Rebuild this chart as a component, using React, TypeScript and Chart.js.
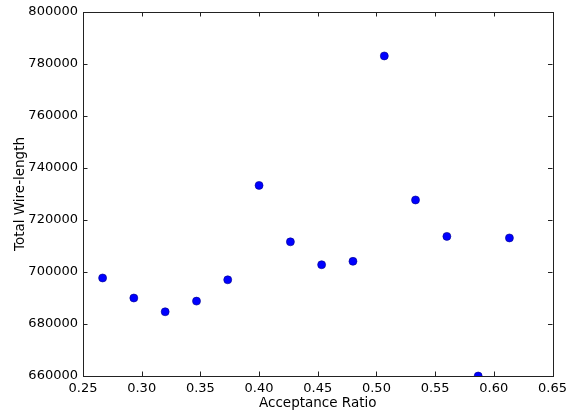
import React, { useEffect, useRef } from "react";
import { Chart, registerables } from "chart.js";

Chart.register(...registerables);

// Acceptance ratio for each run and the resulting total wire-length
const acceptanceRatios = [
  0.2667, 0.2933, 0.32, 0.3467, 0.3733, 0.4, 0.4267, 0.4533, 0.48, 0.5067,
  0.5333, 0.56, 0.5867, 0.6133,
];
const wireLengths = [
  697700, 690000, 684700, 688800, 697000, 733300, 711600, 702800, 704100,
  783100, 727700, 713700, 660000, 713100,
];

const xMin = 0.25;
const xMax = 0.65;
const xStep = 0.05;
const yMin = 660000;
const yMax = 800000;
const yStep = 20000;

const FONT = "'DejaVu Sans', sans-serif";

// Box frame plus inward tick marks on all four sides
const frameAndTicks = {
  id: "frameAndTicks",
  afterDraw(chart: any) {
    const { ctx, chartArea: a, scales } = chart;
    const len = 4.5;
    ctx.save();
    ctx.strokeStyle = "#222";
    ctx.lineWidth = 1;
    ctx.beginPath();
    for (const t of scales.x.ticks) {
      const px = Math.round(scales.x.getPixelForValue(t.value)) + 0.5;
      ctx.moveTo(px, a.bottom);
      ctx.lineTo(px, a.bottom - len);
      ctx.moveTo(px, a.top);
      ctx.lineTo(px, a.top + len);
    }
    for (const t of scales.y.ticks) {
      const py = Math.round(scales.y.getPixelForValue(t.value)) + 0.5;
      ctx.moveTo(a.left, py);
      ctx.lineTo(a.left + len, py);
      ctx.moveTo(a.right, py);
      ctx.lineTo(a.right - len, py);
    }
    ctx.stroke();
    ctx.strokeRect(
      Math.round(a.left) + 0.5,
      Math.round(a.top) + 0.5,
      Math.round(a.right - a.left),
      Math.round(a.bottom - a.top)
    );
    ctx.restore();
  },
};

export default function App() {
  const ref = useRef<HTMLCanvasElement>(null);

  useEffect(() => {
    const canvas = ref.current;
    if (!canvas) return;
    const points = acceptanceRatios.map((x, i) => ({ x, y: wireLengths[i] }));
    const chart = new Chart(canvas, {
      type: "scatter",
      data: {
        datasets: [
          {
            data: points,
            backgroundColor: "#0000ff",
            borderColor: "#00008a",
            borderWidth: 0.6,
            pointRadius: 4,
            pointHoverRadius: 4,
            clip: 0,
          },
        ],
      },
      options: {
        animation: false,
        responsive: false,
        devicePixelRatio: 1,
        layout: { padding: { top: 12, right: 16.5, left: 0, bottom: 0 } },
        plugins: {
          legend: { display: false },
          tooltip: { enabled: false },
        },
        scales: {
          x: {
            type: "linear",
            min: xMin,
            max: xMax,
            ticks: {
              stepSize: xStep,
              padding: 4.5,
              color: "#000",
              font: { family: FONT, size: 13 },
              callback: (v: any) => Number(v).toFixed(2),
              maxRotation: 0,
            },
            grid: { display: false, drawTicks: false },
            border: { display: false },
            title: {
              display: true,
              text: "Acceptance Ratio",
              color: "#000",
              font: { family: FONT, size: 13.5 },
              padding: { top: 0, bottom: 2.5 },
            },
            afterFit: (s: any) => {
              s.height = 38;
              s.paddingLeft = 0;
              s.paddingRight = 0;
            },
          },
          y: {
            type: "linear",
            min: yMin,
            max: yMax,
            ticks: {
              stepSize: yStep,
              padding: 5,
              color: "#000",
              font: { family: FONT, size: 13 },
              callback: (v: any) => String(v),
            },
            grid: { display: false, drawTicks: false },
            border: { display: false },
            title: {
              display: true,
              text: "Total Wire-length",
              color: "#000",
              font: { family: FONT, size: 13.5 },
              padding: { top: 12, bottom: 0 },
            },
            afterFit: (s: any) => {
              s.width = 83;
              s.paddingTop = 0;
              s.paddingBottom = 0;
            },
          },
        },
      },
      plugins: [frameAndTicks],
    });
    return () => chart.destroy();
  }, []);

  return (
    <div
      style={{
        position: "fixed",
        left: 0,
        top: 0,
        width: 569,
        height: 414,
        background: "#fff",
      }}
    >
      <canvas ref={ref} width={569} height={414} style={{ display: "block" }} />
    </div>
  );
}
